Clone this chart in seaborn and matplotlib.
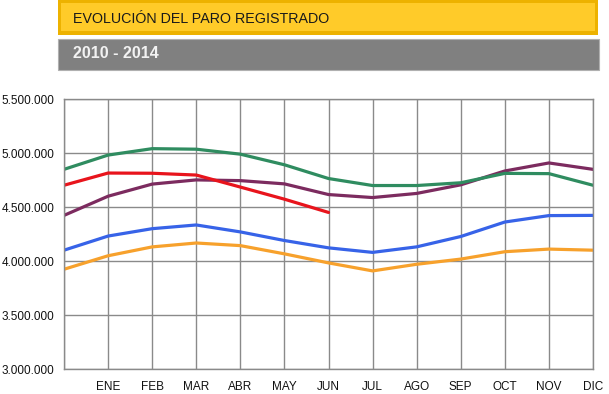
import matplotlib
matplotlib.use("Agg")
import matplotlib.pyplot as plt
from matplotlib.patches import Rectangle
from matplotlib.ticker import FuncFormatter
import seaborn as sns
import pandas as pd

# Paro registrado, valores (primer punto = diciembre del año anterior)
months = ["", "ENE", "FEB", "MAR", "ABR", "MAY", "JUN", "JUL", "AGO", "SEP", "OCT", "NOV", "DIC"]
paro_2010 = [3923603, 4048493, 4130625, 4166613, 4142425, 4066202, 3982368, 3908286, 3969661, 4017763, 4085976, 4110294, 4100073]
paro_2011 = [4100073, 4231003, 4299263, 4333669, 4269360, 4189659, 4121801, 4079742, 4130927, 4226744, 4360926, 4420409, 4422359]
paro_2012 = [4422359, 4599829, 4712098, 4750867, 4744235, 4714122, 4615269, 4587455, 4625634, 4705279, 4833521, 4907817, 4848723]
paro_2013 = [4848723, 4980778, 5040222, 5035243, 4989193, 4890928, 4763680, 4698814, 4698783, 4724355, 4811383, 4808908, 4701338]
paro_2014 = [4701338, 4814435, 4812486, 4795866, 4684635, 4572385, 4449701]

series = {"2010": paro_2010, "2011": paro_2011, "2012": paro_2012,
          "2013": paro_2013, "2014": paro_2014}
colors = {"2010": "#F7A12C", "2011": "#3763E8", "2012": "#7C2B5F",
          "2013": "#2F8C60", "2014": "#E8141C"}

rows = []
for year, vals in series.items():
    for i, v in enumerate(vals):
        rows.append({"pos": i, "Parados": v, "Año": year})
df = pd.DataFrame(rows)

sns.set_style("white")
plt.rcParams["font.family"] = ["Liberation Sans", "DejaVu Sans"]

fig = plt.figure(figsize=(6.09, 3.94), dpi=100)
ax = fig.add_axes([64 / 609, 1 - 369 / 394, (593 - 64) / 609, (369 - 99) / 394])

sns.lineplot(data=df, x="pos", y="Parados", hue="Año", palette=colors,
             linewidth=2.3, legend=False, ax=ax, sort=False)

ax.set_xlim(0, 12)
ax.set_ylim(3000000, 5500000)
ax.set_xticks(range(0, 13))
ax.set_xticklabels(months)
ax.set_yticks(range(3000000, 5500001, 500000))
ax.yaxis.set_major_formatter(FuncFormatter(lambda v, p: f"{int(v):,}".replace(",", ".")))
ax.tick_params(axis="both", length=0, labelsize=8.5, colors="#111111")
ax.tick_params(axis="x", pad=9)
ax.tick_params(axis="y", pad=7)
ax.set_xlabel("")
ax.set_ylabel("")
ax.grid(True, color="#8a8a8a", linewidth=1.0)
ax.set_axisbelow(True)
for s in ax.spines.values():
    s.set_color("#8a8a8a")
    s.set_linewidth(1.0)

# Cabecera: barra amarilla con titulo y barra gris con periodo
W, H = 609, 394
def frect(x0, y0, x1, y1, **kw):
    fig.patches.append(Rectangle((x0 / W, 1 - y1 / H), (x1 - x0) / W, (y1 - y0) / H,
                                 transform=fig.transFigure, figure=fig, **kw))

frect(58, 0, 598, 35, facecolor="#EDB200", edgecolor="none")
frect(61, 3, 595, 31, facecolor="#FFCB29", edgecolor="none")
frect(58, 39, 599, 70, facecolor="#808080", edgecolor="#b0b0b0", linewidth=0.8)

fig.text(73 / W, 1 - 19 / H, "EVOLUCIÓN DEL PARO REGISTRADO", fontsize=10.3,
         color="#1a1a1a", ha="left", va="center")
fig.text(73 / W, 1 - 54 / H, "2010 - 2014", fontsize=11.5, fontweight="bold",
         color="#f2f2f2", ha="left", va="center")

fig.savefig("out.png", dpi=100)
